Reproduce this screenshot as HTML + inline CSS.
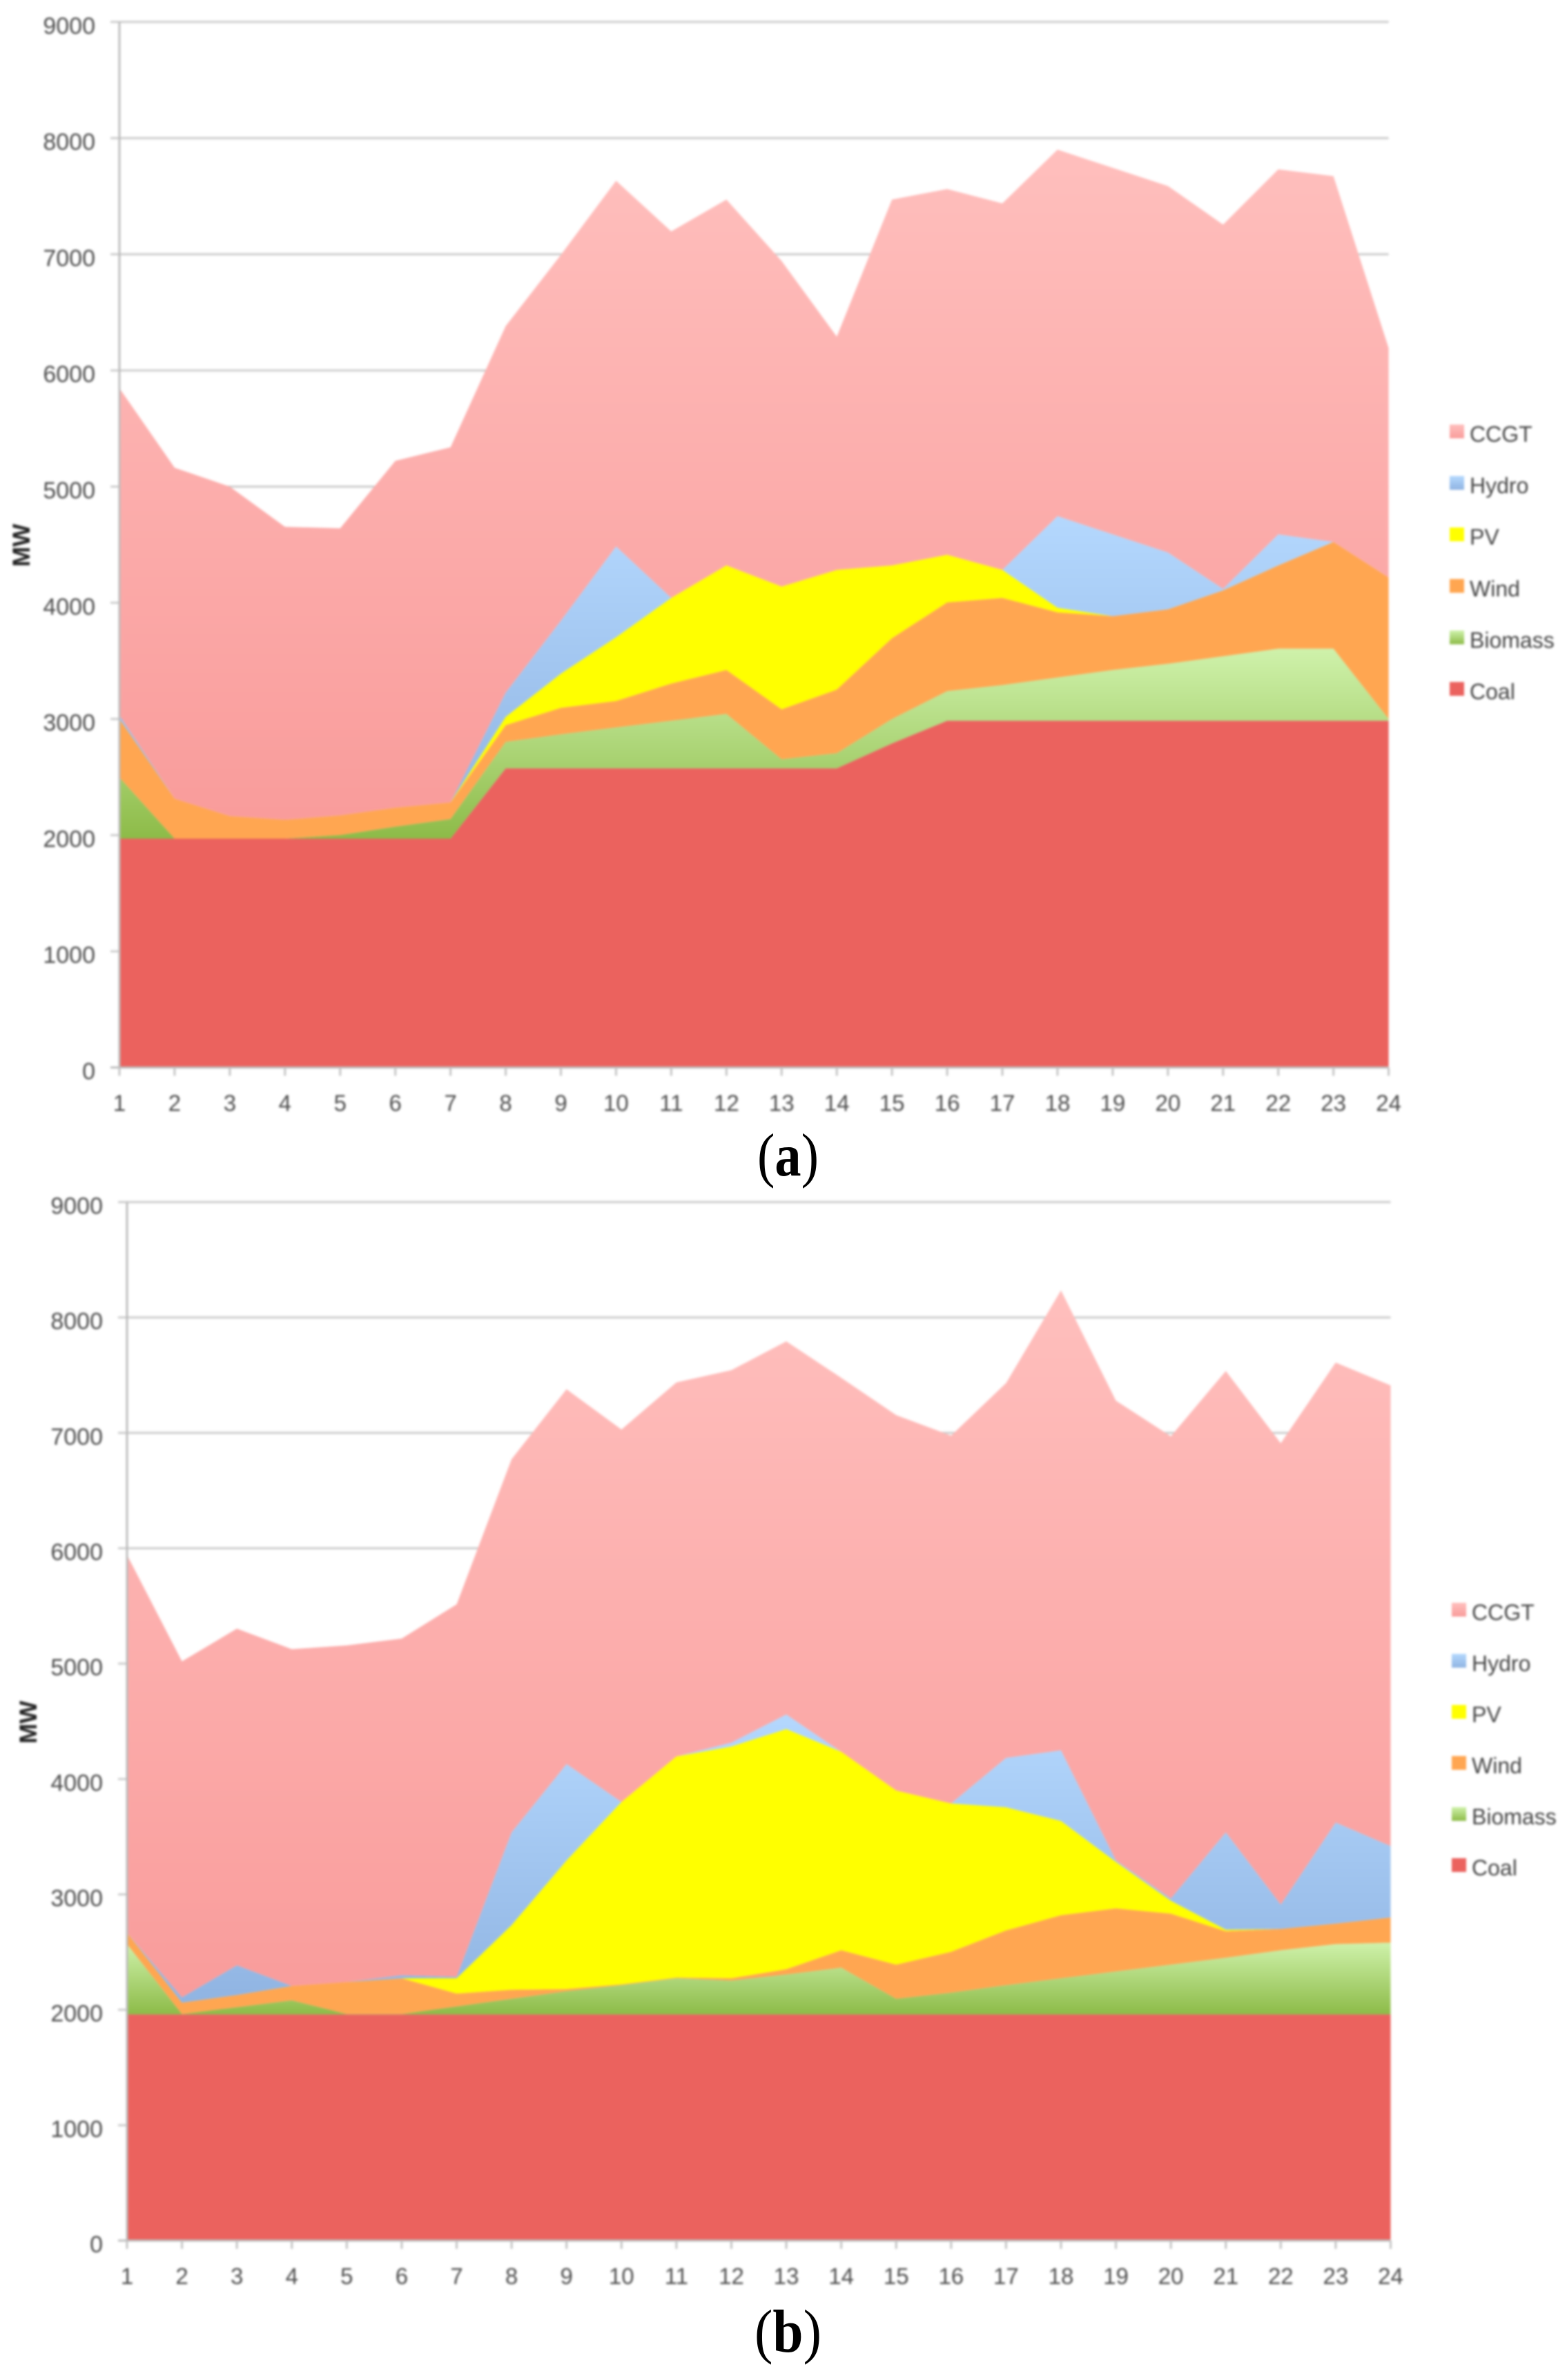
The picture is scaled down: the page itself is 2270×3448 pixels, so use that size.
<!DOCTYPE html>
<html lang="en">
<head>
<meta charset="utf-8">
<title>Daily generation mix by source, charts (a) and (b)</title>
<style>
html,body{margin:0;padding:0;background:#fff;width:2270px;height:3448px;overflow:hidden}
#plots{filter:blur(1.5px)}
</style>
</head>
<body>
<svg id="figure" xmlns="http://www.w3.org/2000/svg" width="2270" height="3448" viewBox="0 0 2270 3448" style="display:block">
  <defs>
    <linearGradient id="fill-ccgt" x1="0" y1="0" x2="0" y2="1"><stop offset="0" stop-color="#ffbfbd"/><stop offset="1" stop-color="#f99c9b"/></linearGradient>
    <linearGradient id="fill-hydro" x1="0" y1="0" x2="0" y2="1"><stop offset="0" stop-color="#b4d8fe"/><stop offset="1" stop-color="#90b4e2"/></linearGradient>
    <linearGradient id="fill-biomass" x1="0" y1="0" x2="0" y2="1"><stop offset="0" stop-color="#cff2ab"/><stop offset="1" stop-color="#8dbb48"/></linearGradient>
  </defs>
  <rect x="0" y="0" width="2270" height="3448" fill="#ffffff"/>
  <g id="plots"></g>
  <text x="1097" y="1703" textLength="89" lengthAdjust="spacingAndGlyphs" font-family="'Liberation Serif', serif" font-size="88" fill="#000">(<tspan font-weight="bold">a</tspan>)</text>
  <text x="1093" y="3407" textLength="97" lengthAdjust="spacingAndGlyphs" font-family="'Liberation Serif', serif" font-size="88" fill="#000">(<tspan font-weight="bold">b</tspan>)</text>
</svg>
<script>
const hours = ['1','2','3','4','5','6','7','8','9','10','11','12','13','14','15','16','17','18','19','20','21','22','23','24'];
const yTickValues = [0,1000,2000,3000,4000,5000,6000,7000,8000,9000];
const seriesNames = ['Coal','Biomass','Wind','PV','Hydro','CCGT'];

const coalA = [1970,1970,1970,1970,1970,1970,1970,2575,2575,2575,2575,2575,2575,2575,2790,2985,2985,2985,2985,2985,2985,2985,2985,2985];
const biomassA = [527,0,0,0,30,103,168,228,293,352,410,469,78,130,210,255,307,372,437,490,555,620,620,15];
const windA = [503,344,194,162,170,163,144,144,228,228,320,378,430,548,696,763,750,561,463,469,567,717,919,1218];
const pvA = [0,0,0,0,0,0,0,71,294,548,737,900,1057,1030,626,410,241,39,0,0,0,0,0,0];
const hydroA = [31,0,0,0,0,0,0,209,456,782,0,0,0,0,0,0,0,789,704,489,13,267,0,0];
const ccgtA = [2816,2849,2836,2522,2471,2986,3057,3155,3149,3148,3155,3149,2802,2008,3149,3149,3155,3155,3155,3155,3136,3142,3149,1975];

const coalB = [1960,1960,1960,1960,1960,1960,1960,1960,1960,1960,1960,1960,1960,1960,1960,1960,1960,1960,1960,1960,1960,1960,1960,1960];
const biomassB = [609,3,62,122,3,3,69,135,201,253,313,293,346,405,135,188,253,313,372,431,491,556,609,622];
const windB = [99,99,106,125,277,310,112,79,19,7,6,20,46,151,296,355,475,547,547,442,230,185,178,218];
const pvB = [0,0,0,0,0,0,132,560,1114,1581,1917,2009,2081,1720,1509,1285,1067,816,402,112,13,0,0,0];
const hydroB = [0,46,257,0,0,26,13,804,836,0,0,33,126,0,0,0,428,613,13,19,844,211,876,619];
const ccgtB = [3274,2912,2918,2918,2918,2918,3228,3234,3248,3228,3241,3228,3234,3241,3254,3188,3248,3986,3985,4006,3998,3998,3986,3992];

const seriesFill = {Coal:'#eb625e',Biomass:'url(#fill-biomass)',Wind:'#ffa651',PV:'#ffff00',Hydro:'url(#fill-hydro)',CCGT:'url(#fill-ccgt)'};
const legendOrder = ['CCGT','Hydro','PV','Wind','Biomass','Coal'];

const NS = 'http://www.w3.org/2000/svg';
const plots = document.getElementById('plots');

function make(tag, props, parent){
  const node = document.createElementNS(NS, tag);
  for (const key in props) node.setAttribute(key, props[key]);
  parent.appendChild(node);
  return node;
}

function drawChart(key, layout, stacks){
  const xScale = i => layout.x0 + (layout.x1 - layout.x0) * i / (hours.length - 1);
  const yScale = v => layout.y0 + (layout.y9 - layout.y0) * v / 9000;

  const chart = make('g', {}, plots);
  
  

  yTickValues.forEach(v => {
    if (v === 0) return;
    const line = make('line', {x1:layout.x0 - 13, x2:layout.x1, y1:yScale(v), y2:yScale(v), stroke:'#cccccc', 'stroke-width':3}, chart);
    
    
  });

  const base = hours.map(() => 0);
  seriesNames.forEach((name, s) => {
    const lower = base.slice();
    stacks[s].forEach((v, i) => { base[i] += v; });
    const pts = [];
    hours.forEach((h, i) => pts.push(xScale(i) + ',' + yScale(base[i])));
    for (let i = hours.length - 1; i >= 0; i--) pts.push(xScale(i) + ',' + yScale(lower[i]));
    const area = make('polygon', {points:pts.join(' '), fill:seriesFill[name]}, chart);
    
    
  });

  const yAxis = make('line', {x1:layout.x0, x2:layout.x0, y1:yScale(9000), y2:yScale(0), stroke:'#bcbcbc', 'stroke-width':3}, chart);
  
  
  const xAxis = make('line', {x1:layout.x0 - 13, x2:layout.x1, y1:yScale(0), y2:yScale(0), stroke:'#bcbcbc', 'stroke-width':3}, chart);
  
  

  yTickValues.forEach(v => {
    const label = make('text', {x:layout.x0 - 35, y:yScale(v) + 17, 'text-anchor':'end', 'font-family':"'Liberation Sans', sans-serif", 'font-size':34, fill:'#4c4c4c'}, chart);
    label.textContent = String(v);
    
    
  });

  hours.forEach((h, i) => {
    const tick = make('line', {x1:xScale(i), x2:xScale(i), y1:yScale(0), y2:yScale(0) + 12, stroke:'#c4c4c4', 'stroke-width':3}, chart);
    
    
    const label = make('text', {x:xScale(i), y:yScale(0) + 63, 'text-anchor':'middle', 'font-family':"'Liberation Sans', sans-serif", 'font-size':33, fill:'#4c4c4c'}, chart);
    label.textContent = h;
    
    
  });

  const title = make('text', {transform:'translate(' + layout.titleX + ' ' + layout.titleY + ') rotate(-90)', 'text-anchor':'middle', 'font-family':"'Liberation Sans', sans-serif", 'font-weight':'bold', 'font-size':35, fill:'#222222'}, chart);
  title.textContent = 'MW';
  
  

  const legend = make('g', {}, chart);
  
  
  legendOrder.forEach((name, i) => {
    const cy = layout.legendY + layout.legendStep * i;
    const swatch = make('rect', {x:layout.legendX, y:cy - 10, width:21, height:20, fill:seriesFill[name]}, legend);
    
    
    const label = make('text', {x:layout.legendX + 29, y:cy + 15, 'font-family':"'Liberation Sans', sans-serif", 'font-size':32, fill:'#444444'}, legend);
    label.textContent = name;
    
    
  });
}

drawChart('a', {x0:173, x1:2011.6, y0:1546.5, y9:31.8, titleX:43, titleY:790, legendX:2100, legendY:625, legendStep:74.6},
  [coalA, biomassA, windA, pvA, hydroA, ccgtA]);
drawChart('b', {x0:184, x1:2014.5, y0:3246, y9:1741.5, titleX:53, titleY:2495, legendX:2103, legendY:2332, legendStep:74},
  [coalB, biomassB, windB, pvB, hydroB, ccgtB]);
</script>
</body>
</html>
